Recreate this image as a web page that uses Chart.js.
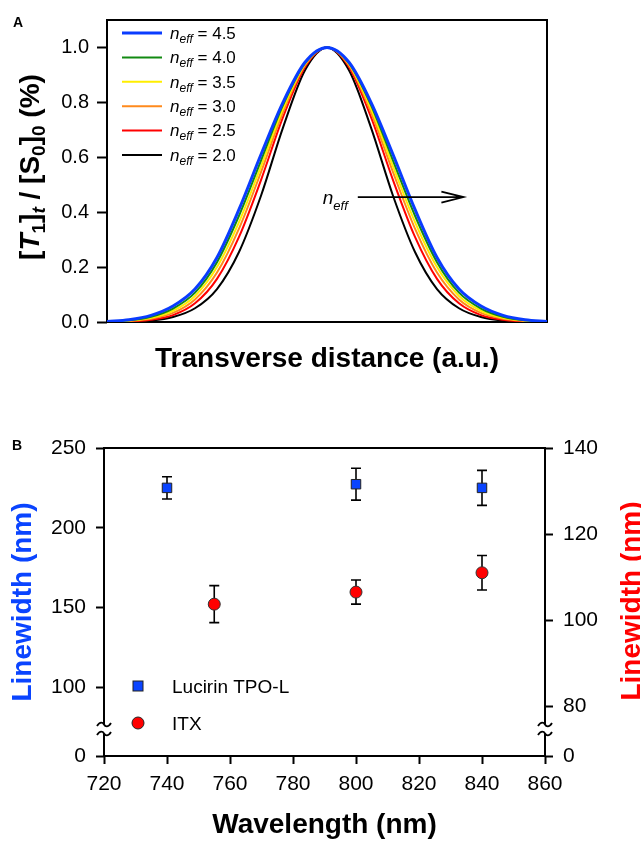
<!DOCTYPE html>
<html lang="en">
<head>
<meta charset="UTF-8">
<title>Linewidth</title>
<script src="https://cdn.jsdelivr.net/npm/chart.js@4.4.1/dist/chart.umd.min.js"></script>
<style>
  html, body { margin: 0; padding: 0; background: #fff; }
  #wrap { position: relative; width: 641px; height: 841px; }
  #chartA { position: absolute; left: 0; top: 0; }
  #chartB { position: absolute; left: 0; top: 380px; }
</style>
</head>
<body>
<div id="wrap">
  <canvas id="chartA" width="641" height="380"></canvas>
  <canvas id="chartB" width="641" height="461"></canvas>
</div>
<script>
const FONT = "'Liberation Sans', Arial, sans-serif";
Chart.defaults.font.family = FONT;
Chart.defaults.color = '#000';

// ---------- panel A data (transverse profile) ----------
const posA = [-1, -0.9, -0.8, -0.7, -0.6, -0.5, -0.4, -0.3, -0.2, -0.1, 0,
              0.1, 0.2, 0.3, 0.4, 0.5, 0.6, 0.7, 0.8, 0.9, 1];
const neffLabels = ['4.5', '4.0', '3.5', '3.0', '2.5', '2.0'];
const neffColors = ['#0a3cff', '#128a12', '#ffee00', '#ff8a1c', '#ff0000', '#000000'];
const neffWidths = [3, 2, 2, 2, 2, 2];
const neff45 = [0.002, 0.008, 0.024, 0.058, 0.12, 0.235, 0.41, 0.61, 0.80, 0.946, 1, 0.946, 0.80, 0.61, 0.41, 0.235, 0.12, 0.058, 0.024, 0.008, 0.002];
const neff40 = [0.0015, 0.006, 0.019, 0.049, 0.107, 0.218, 0.387, 0.588, 0.79, 0.943, 1, 0.943, 0.79, 0.588, 0.387, 0.218, 0.107, 0.049, 0.019, 0.006, 0.0015];
const neff35 = [0.001, 0.005, 0.015, 0.041, 0.095, 0.2, 0.364, 0.567, 0.777, 0.939, 1, 0.939, 0.777, 0.567, 0.364, 0.2, 0.095, 0.041, 0.015, 0.005, 0.001];
const neff30 = [0.001, 0.004, 0.012, 0.033, 0.082, 0.18, 0.34, 0.546, 0.764, 0.935, 1, 0.935, 0.764, 0.546, 0.34, 0.18, 0.082, 0.033, 0.012, 0.004, 0.001];
const neff25 = [0.0005, 0.002, 0.008, 0.025, 0.068, 0.157, 0.31, 0.517, 0.746, 0.929, 1, 0.929, 0.746, 0.517, 0.31, 0.157, 0.068, 0.025, 0.008, 0.002, 0.0005];
const neff20 = [0.0002, 0.0012, 0.005, 0.018, 0.05, 0.12, 0.255, 0.46, 0.708, 0.917, 1, 0.917, 0.708, 0.46, 0.255, 0.12, 0.05, 0.018, 0.005, 0.0012, 0.0002];
const yTicksA = [0, 0.2, 0.4, 0.6, 0.8, 1.0];
const arrowA = { from: 0.14, to: 0.62, y: 0.455 };

// ---------- panel B data ----------
const tpoWl = [740, 800, 840];
const tpoLw = [225, 227.3, 225];
const tpoErr = [7, 10, 11];
const itxWl = [755, 800, 840];
const itxLw = [103.7, 106.5, 111];
const itxErr = [4.3, 2.8, 4];
const xTicksB = [720, 740, 760, 780, 800, 820, 840, 860];
const yLeftTicks = [100, 150, 200, 250];
const yLeftMin = 56.9;     // broken axis, shown as 0
const yRightTicks = [80, 100, 120, 140];
const yRightMin = 68.4;    // broken axis, shown as 0

const BLUE = '#0a44ff';
const RED = '#ff0000';

function drawRich(ctx, parts, x, y) {
  let cx = x;
  for (const p of parts) {
    ctx.font = p.font;
    ctx.fillText(p.t, cx, y + (p.dy || 0));
    cx += ctx.measureText(p.t).width;
  }
  return cx;
}
function richWidth(ctx, parts) {
  let w = 0;
  for (const p of parts) { ctx.font = p.font; w += ctx.measureText(p.t).width; }
  return w;
}

// ---------------- panel A ----------------
const seriesA = [neff45, neff40, neff35, neff30, neff25, neff20];

const panelA = {
  id: 'panelA',
  beforeDatasetsDraw(chart) {
    const { ctx, chartArea: a } = chart;
    ctx.save();
    ctx.strokeStyle = '#000';
    ctx.lineWidth = 2;
    ctx.strokeRect(a.left, a.top, a.right - a.left, a.bottom - a.top);
    ctx.restore();
  },
  afterDraw(chart) {
    const { ctx, scales } = chart;
    ctx.save();
    ctx.fillStyle = '#000';
    ctx.textBaseline = 'alphabetic';

    // panel letter
    ctx.font = 'bold 14px ' + FONT;
    ctx.fillText('A', 13, 27);

    // legend
    for (let i = 0; i < neffLabels.length; i++) {
      const y = 33 + i * 24.4;
      ctx.strokeStyle = neffColors[i];
      ctx.lineWidth = neffWidths[i];
      ctx.beginPath();
      ctx.moveTo(122, y);
      ctx.lineTo(162, y);
      ctx.stroke();
      ctx.fillStyle = '#000';
      drawRich(ctx, [
        { t: 'n', font: 'italic 17px ' + FONT },
        { t: 'eff', font: 'italic 12px ' + FONT, dy: 4 },
        { t: ' = ' + neffLabels[i], font: '17px ' + FONT }
      ], 170, y + 5.7);
    }

    // arrow
    const xs = scales.x, ys = scales.y;
    const x1 = xs.getPixelForValue(arrowA.from);
    const x2 = xs.getPixelForValue(arrowA.to);
    const ya = ys.getPixelForValue(arrowA.y);
    ctx.strokeStyle = '#000';
    ctx.lineWidth = 1.8;
    ctx.beginPath();
    ctx.moveTo(x1, ya);
    ctx.lineTo(x2, ya);
    ctx.moveTo(x2 - 22, ya - 5.5);
    ctx.lineTo(x2, ya);
    ctx.lineTo(x2 - 22, ya + 5.5);
    ctx.stroke();
    drawRich(ctx, [
      { t: 'n', font: 'italic 19px ' + FONT },
      { t: 'eff', font: 'italic 13px ' + FONT, dy: 6 }
    ], x1 - 35, ya + 7);

    // y title
    const B = 'bold 28px ' + FONT, BI = 'italic bold 28px ' + FONT;
    const S = 'bold 19px ' + FONT, SI = 'italic bold 19px ' + FONT;
    const parts = [
      { t: '[', font: B }, { t: 'T', font: BI }, { t: '1', font: S, dy: 6 },
      { t: ']', font: B }, { t: 't', font: SI, dy: 6 },
      { t: ' / [', font: B }, { t: 'S', font: B }, { t: '0', font: S, dy: 6 },
      { t: ']', font: B }, { t: '0', font: S, dy: 6 }, { t: ' (%)', font: B }
    ];
    const w = richWidth(ctx, parts);
    ctx.translate(39, 167);
    ctx.rotate(-Math.PI / 2);
    drawRich(ctx, parts, -w / 2, 0);
    ctx.restore();
  }
};

new Chart(document.getElementById('chartA'), {
  type: 'line',
  data: {
    datasets: seriesA.map((arr, i) => ({
      label: 'neff = ' + neffLabels[i],
      data: posA.map((x, j) => ({ x: x, y: arr[j] })),
      borderColor: neffColors[i],
      borderWidth: neffWidths[i],
      pointRadius: 0,
      fill: false,
      cubicInterpolationMode: 'monotone'
    }))
  },
  options: {
    responsive: false,
    animation: false,
    events: [],
    layout: { padding: { left: 0, right: 94, top: 14, bottom: 0 } },
    plugins: { legend: { display: false }, tooltip: { enabled: false } },
    scales: {
      x: {
        type: 'linear', min: -1, max: 1,
        grid: { display: false },
        border: { display: false },
        ticks: { display: false },
        title: {
          display: true, text: 'Transverse distance (a.u.)',
          font: { size: 28, weight: 'bold' }, padding: { top: 0, bottom: 4 }
        },
        afterFit: s => { s.height = 58; }
      },
      y: {
        min: 0, max: 1.1,
        afterBuildTicks: s => { s.ticks = yTicksA.map(v => ({ value: v })); },
        grid: { drawOnChartArea: false, drawTicks: true, tickLength: 10, tickWidth: 2, tickColor: '#000' },
        border: { display: false },
        ticks: { font: { size: 20 }, padding: 8, autoSkip: false, callback: v => v.toFixed(1) },
        afterFit: s => { s.width = 107; }
      }
    }
  },
  plugins: [panelA]
});

// ---------------- panel B ----------------
function errBars(ctx, xs, ys, xVals, yVals, errs) {
  for (let i = 0; i < xVals.length; i++) {
    const px = xs.getPixelForValue(xVals[i]);
    const top = ys.getPixelForValue(yVals[i] + errs[i]);
    const bot = ys.getPixelForValue(yVals[i] - errs[i]);
    ctx.beginPath();
    ctx.moveTo(px, top); ctx.lineTo(px, bot);
    ctx.moveTo(px - 5, top); ctx.lineTo(px + 5, top);
    ctx.moveTo(px - 5, bot); ctx.lineTo(px + 5, bot);
    ctx.stroke();
  }
}

function axisBreak(ctx, x, y) {
  ctx.fillStyle = '#fff';
  ctx.fillRect(x - 2, y - 4.5, 4, 9);
  ctx.strokeStyle = '#000';
  ctx.lineWidth = 1.8;
  for (const yy of [y - 4.5, y + 4.5]) {
    ctx.beginPath();
    ctx.moveTo(x - 7, yy + 1.5);
    ctx.bezierCurveTo(x - 4, yy - 3.5, x - 1, yy - 2, x, yy);
    ctx.bezierCurveTo(x + 1, yy + 2, x + 4, yy + 3.5, x + 7, yy - 1.5);
    ctx.stroke();
  }
}

const panelB = {
  id: 'panelB',
  beforeDatasetsDraw(chart) {
    const { ctx, chartArea: a, scales } = chart;
    ctx.save();
    ctx.strokeStyle = '#000';
    ctx.lineWidth = 2;
    ctx.strokeRect(a.left, a.top, a.right - a.left, a.bottom - a.top);
    axisBreak(ctx, a.left, a.bottom - 27);
    axisBreak(ctx, a.right, a.bottom - 27);
    ctx.strokeStyle = '#000';
    ctx.lineWidth = 1.6;
    errBars(ctx, scales.x, scales.y, tpoWl, tpoLw, tpoErr);
    errBars(ctx, scales.x, scales.y2, itxWl, itxLw, itxErr);
    ctx.restore();
  },
  afterDraw(chart) {
    const { ctx } = chart;
    ctx.save();
    ctx.fillStyle = '#000';
    ctx.textBaseline = 'alphabetic';
    ctx.font = 'bold 14px ' + FONT;
    ctx.fillText('B', 12, 70);

    // legend
    ctx.fillStyle = BLUE;
    ctx.strokeStyle = '#222';
    ctx.lineWidth = 1;
    ctx.fillRect(133, 301, 10, 10);
    ctx.strokeRect(133, 301, 10, 10);
    ctx.beginPath();
    ctx.arc(138, 343, 6, 0, Math.PI * 2);
    ctx.fillStyle = RED;
    ctx.fill();
    ctx.stroke();
    ctx.fillStyle = '#000';
    ctx.font = '19px ' + FONT;
    ctx.fillText('Lucirin TPO-L', 172, 313);
    ctx.fillText('ITX', 172, 350);

    // right axis title
    ctx.fillStyle = RED;
    ctx.font = 'bold 28px ' + FONT;
    ctx.textAlign = 'center';
    ctx.translate(640, 221);
    ctx.rotate(-Math.PI / 2);
    ctx.fillText('Linewidth (nm)', 0, 0);
    ctx.restore();
  }
};

new Chart(document.getElementById('chartB'), {
  type: 'scatter',
  data: {
    datasets: [
      {
        label: 'Lucirin TPO-L',
        data: tpoWl.map((x, i) => ({ x: x, y: tpoLw[i] })),
        yAxisID: 'y',
        pointStyle: 'rect', pointRadius: 6.7,
        backgroundColor: BLUE, borderColor: '#222', borderWidth: 1
      },
      {
        label: 'ITX',
        data: itxWl.map((x, i) => ({ x: x, y: itxLw[i] })),
        yAxisID: 'y2',
        pointStyle: 'circle', pointRadius: 6,
        backgroundColor: RED, borderColor: '#333', borderWidth: 1
      }
    ]
  },
  options: {
    responsive: false,
    animation: false,
    events: [],
    layout: { padding: { left: 0, right: 0, top: 68, bottom: 0 } },
    plugins: { legend: { display: false }, tooltip: { enabled: false } },
    scales: {
      x: {
        type: 'linear', min: 720, max: 860,
        afterBuildTicks: s => { s.ticks = xTicksB.map(v => ({ value: v })); },
        grid: { drawOnChartArea: false, drawTicks: true, tickLength: 8, tickWidth: 2, tickColor: '#000' },
        border: { display: false },
        ticks: { font: { size: 21 }, padding: 8, autoSkip: false, maxRotation: 0 },
        title: {
          display: true, text: 'Wavelength (nm)',
          font: { size: 28, weight: 'bold', lineHeight: 1.1 }, padding: { top: 0, bottom: 0 }
        },
        afterFit: s => { s.height = 85; }
      },
      y: {
        position: 'left', min: yLeftMin, max: 250,
        afterBuildTicks: s => { s.ticks = [yLeftMin].concat(yLeftTicks).map(v => ({ value: v })); },
        grid: { drawOnChartArea: false, drawTicks: true, tickLength: 8, tickWidth: 2, tickColor: '#000' },
        border: { display: false },
        ticks: { font: { size: 21 }, padding: 10, autoSkip: false, callback: v => v === yLeftMin ? '0' : String(v) },
        title: {
          display: true, text: 'Linewidth (nm)', color: BLUE,
          font: { size: 28, weight: 'bold' }, padding: { top: 6, bottom: 0 }
        },
        afterFit: s => { s.width = 104; }
      },
      y2: {
        position: 'right', min: yRightMin, max: 140,
        afterBuildTicks: s => { s.ticks = [yRightMin].concat(yRightTicks).map(v => ({ value: v })); },
        grid: { drawOnChartArea: false, drawTicks: true, tickLength: 8, tickWidth: 2, tickColor: '#000' },
        border: { display: false },
        ticks: { font: { size: 21 }, padding: 10, autoSkip: false, callback: v => v === yRightMin ? '0' : String(v) },
        afterFit: s => { s.width = 96; }
      }
    }
  },
  plugins: [panelB]
});
</script>
</body>
</html>
